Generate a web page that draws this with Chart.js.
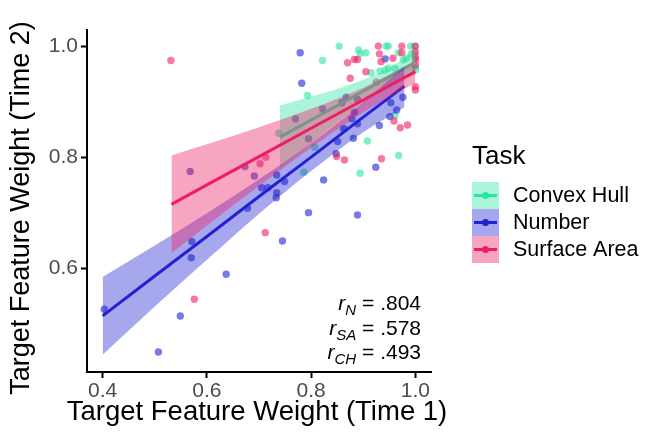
<!DOCTYPE html>
<html>
<head>
<meta charset="utf-8">
<script src="https://cdn.jsdelivr.net/npm/chart.js@4"></script>
<style>
  html, body { margin: 0; padding: 0; background: #fff; }
</style>
</head>
<body>
<canvas id="taskChart" width="646" height="443"></canvas>
<script>
// tasks, in ggplot group order
const taskNames = ['Convex Hull', 'Number', 'Surface Area'];

// raw points (Time 1 / Time 2)
const hullX = [0.854, 0.822, 0.793, 0.891, 0.894, 0.905, 0.944, 0.948, 0.991, 0.999,
  0.992, 0.999, 0.968, 0.977, 0.983, 0.961, 1.0, 1.0, 0.915, 0.932,
  0.942, 0.948, 0.961, 0.908, 0.968, 0.894, 0.738, 0.786, 0.807, 0.865];
const hullY = [1.0, 0.974, 0.911, 0.993, 0.986, 0.988, 1.0, 1.0, 1.0, 1.0,
  0.986, 0.986, 0.988, 0.975, 0.978, 0.960, 0.957, 0.962, 0.952, 0.955,
  0.957, 0.960, 0.875, 0.829, 0.803, 0.771, 0.843, 0.773, 0.818, 0.851];

const numberX = [0.403, 0.507, 0.549, 0.570, 0.571, 0.637, 0.568, 0.673, 0.691, 0.705,
  0.678, 0.717, 0.734, 0.749, 0.734, 0.733, 0.745, 0.795, 0.889, 0.824,
  0.779, 0.782, 0.822, 0.770, 0.795, 0.859, 0.867, 0.889, 0.878, 0.883,
  0.889, 0.862, 0.881, 0.851, 0.848, 0.924, 0.931, 0.951, 0.964, 0.953,
  0.976, 0.942];
const numberY = [0.526, 0.449, 0.514, 0.619, 0.648, 0.589, 0.774, 0.783, 0.766, 0.745,
  0.708, 0.745, 0.768, 0.756, 0.736, 0.727, 0.649, 0.700, 0.696, 0.759,
  0.988, 0.933, 0.887, 0.869, 0.833, 0.898, 0.908, 0.904, 0.869, 0.881,
  0.860, 0.851, 0.834, 0.828, 0.806, 0.782, 0.857, 0.873, 0.885, 0.898,
  0.908, 0.977];

const areaX = [0.531, 0.702, 0.713, 0.576, 0.712, 0.849, 0.864, 0.935, 0.959, 0.971,
  0.985, 0.929, 0.974, 1.0, 0.931, 0.934, 0.974, 0.957, 1.0, 0.870,
  0.883, 0.889, 1.0, 0.905, 0.875, 1.0, 1.0, 0.925, 1.0, 1.0];
const areaY = [0.974, 0.788, 0.800, 0.544, 0.664, 0.801, 0.795, 0.797, 0.865, 0.853,
  0.858, 1.0, 1.0, 1.0, 0.986, 0.972, 0.988, 0.978, 0.975, 0.970,
  0.976, 0.976, 0.966, 0.954, 0.942, 0.927, 0.921, 0.935, 0.990, 0.980];

// lm fits + 95% bands, read at a few x positions
const hullFitX = [0.74, 0.80, 0.86, 0.92, 0.96, 1.0];
const hullFitY = [0.836, 0.867, 0.898, 0.929, 0.950, 0.971];
const hullHi = [0.893, 0.909, 0.926, 0.947, 0.966, 0.993];
const hullLo = [0.779, 0.825, 0.870, 0.911, 0.934, 0.949];

const numberFitX = [0.40, 0.50, 0.60, 0.70, 0.80, 0.90, 0.979];
const numberFitY = [0.514, 0.586, 0.657, 0.729, 0.800, 0.872, 0.928];
const numberHi = [0.584, 0.641, 0.699, 0.760, 0.825, 0.899, 0.964];
const numberLo = [0.444, 0.531, 0.615, 0.698, 0.775, 0.845, 0.890];

const areaFitX = [0.532, 0.60, 0.70, 0.80, 0.90, 1.0];
const areaFitY = [0.715, 0.750, 0.801, 0.852, 0.903, 0.954];
const areaHi = [0.803, 0.823, 0.854, 0.887, 0.925, 0.974];
const areaLo = [0.627, 0.677, 0.748, 0.817, 0.881, 0.934];

const xTicks = [0.4, 0.6, 0.8, 1.0];
const yTicks = [0.6, 0.8, 1.0];
const corrLabels = [['N', '.804'], ['SA', '.578'], ['CH', '.493']];
const xTitle = 'Target Feature Weight (Time 1)';
const yTitle = 'Target Feature Weight (Time 2)';

const rgb = ['43, 228, 160', '34, 34, 210', '238, 30, 100'];
const FONT = '"Liberation Sans", Arial, Helvetica, sans-serif';

const pts = (xs, ys) => xs.map((x, i) => ({ x: x, y: ys[i] }));

const pointSet = (xs, ys, k, order) => ({
  label: taskNames[k],
  data: pts(xs, ys),
  backgroundColor: 'rgba(' + rgb[k] + ', 0.6)',
  borderWidth: 0,
  pointRadius: 3.7,
  order: order
});

const bandSet = (xs, ys, k, order, fill) => ({
  data: pts(xs, ys),
  showLine: true,
  pointRadius: 0,
  borderWidth: 0,
  borderColor: 'rgba(0,0,0,0)',
  backgroundColor: 'rgba(' + rgb[k] + ', 0.4)',
  cubicInterpolationMode: 'monotone',
  fill: fill,
  order: order
});

const lineSet = (xs, ys, k, order) => ({
  data: pts(xs, ys),
  showLine: true,
  pointRadius: 0,
  borderWidth: 3,
  borderColor: 'rgb(' + rgb[k] + ')',
  fill: false,
  order: order
});

const datasets = [
  pointSet(hullX, hullY, 0, 30),
  pointSet(numberX, numberY, 1, 29),
  pointSet(areaX, areaY, 2, 28),
  bandSet(hullFitX, hullHi, 0, 20, '+1'),
  bandSet(hullFitX, hullLo, 0, 19, false),
  lineSet(hullFitX, hullFitY, 0, 18),
  bandSet(numberFitX, numberHi, 1, 17, '+1'),
  bandSet(numberFitX, numberLo, 1, 16, false),
  lineSet(numberFitX, numberFitY, 1, 15),
  bandSet(areaFitX, areaHi, 2, 14, '+1'),
  bandSet(areaFitX, areaLo, 2, 13, false),
  lineSet(areaFitX, areaFitY, 2, 12)
];

// axis titles (drawn here so chart.js doesn't squeeze them to the axis width),
// legend on the right + the r values in the corner
const extras = {
  id: 'extras',
  afterDraw(chart) {
    const ctx = chart.ctx;
    const area = chart.chartArea;
    ctx.save();
    ctx.fillStyle = '#000';
    ctx.textAlign = 'center';
    ctx.textBaseline = 'middle';
    ctx.font = '27.5px ' + FONT;
    ctx.fillText(xTitle, (area.left + area.right) / 2 - 2, 412);
    ctx.save();
    ctx.translate(22, 208);
    ctx.rotate(-Math.PI / 2);
    ctx.font = '27px ' + FONT;
    ctx.fillText(yTitle, 0, 0);
    ctx.restore();

    ctx.textBaseline = 'alphabetic';
    ctx.textAlign = 'left';
    ctx.font = '26px ' + FONT;
    ctx.fillText('Task', 472, 164);

    taskNames.forEach((name, k) => {
      const top = 182 + k * 27;
      const cy = top + 13.5;
      ctx.fillStyle = 'rgba(' + rgb[k] + ', 0.4)';
      ctx.fillRect(472, top, 27, 27);
      ctx.strokeStyle = 'rgb(' + rgb[k] + ')';
      ctx.lineWidth = 3;
      ctx.beginPath();
      ctx.moveTo(474, cy);
      ctx.lineTo(497, cy);
      ctx.stroke();
      ctx.fillStyle = 'rgb(' + rgb[k] + ')';
      ctx.beginPath();
      ctx.arc(485.5, cy, 3.5, 0, Math.PI * 2);
      ctx.fill();
      ctx.fillStyle = '#000';
      ctx.font = '21.5px ' + FONT;
      ctx.textBaseline = 'middle';
      ctx.fillText(name, 513, cy + 1);
      ctx.textBaseline = 'alphabetic';
    });

    // r_N = .804 etc, right aligned
    const right = 421;
    corrLabels.forEach((c, i) => {
      const base = 310 + i * 24.5;
      ctx.font = '21px ' + FONT;
      const rest = ' = ' + c[1];
      const wRest = ctx.measureText(rest).width;
      ctx.font = 'italic 15px ' + FONT;
      const wSub = ctx.measureText(c[0]).width;
      ctx.font = 'italic 21px ' + FONT;
      const wR = ctx.measureText('r').width;
      let x = right - wRest - wSub - wR;
      ctx.fillStyle = '#000';
      ctx.fillText('r', x, base);
      x += wR;
      ctx.font = 'italic 15px ' + FONT;
      ctx.fillText(c[0], x, base + 5);
      x += wSub;
      ctx.font = '21px ' + FONT;
      ctx.fillText(rest, x, base);
    });
    ctx.restore();
  }
};

new Chart(document.getElementById('taskChart').getContext('2d'), {
  type: 'scatter',
  data: { datasets: datasets },
  options: {
    responsive: false,
    animation: false,
    events: [],
    layout: { padding: { left: 0, top: 30, right: 215, bottom: 0 } },
    plugins: {
      legend: { display: false },
      tooltip: { enabled: false }
    },
    scales: {
      x: {
        type: 'linear',
        min: 0.37,
        max: 1.03,
        afterBuildTicks: s => { s.ticks = xTicks.map(v => ({ value: v })); },
        afterFit: s => { s.height = 71; },
        ticks: {
          callback: v => v.toFixed(1),
          color: '#4d4d4d',
          font: { size: 21, family: FONT },
          padding: 1,
          maxRotation: 0,
          autoSkip: false
        },
        grid: { display: true, drawOnChartArea: false, drawTicks: true, tickLength: 6, tickColor: '#000', tickWidth: 2 },
        border: { display: true, color: '#000', width: 2 },
        title: { display: false }
      },
      y: {
        type: 'linear',
        min: 0.413,
        max: 1.029,
        afterBuildTicks: s => { s.ticks = yTicks.map(v => ({ value: v })); },
        afterFit: s => { s.width = 87; },
        ticks: {
          callback: v => v.toFixed(1),
          color: '#4d4d4d',
          font: { size: 21, family: FONT },
          padding: 3,
          autoSkip: false
        },
        grid: { display: true, drawOnChartArea: false, drawTicks: true, tickLength: 6, tickColor: '#000', tickWidth: 2 },
        border: { display: true, color: '#000', width: 2 },
        title: { display: false }
      }
    }
  },
  plugins: [extras]
});
</script>
</body>
</html>
